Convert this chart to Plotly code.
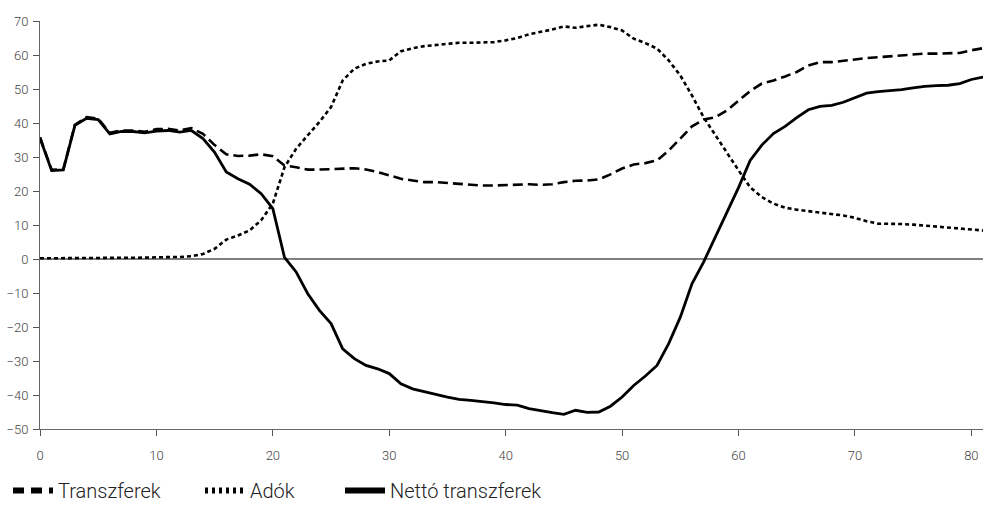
import plotly.graph_objects as go

ages = list(range(0, 82))

transzferek = [35.8, 26.2, 26.4, 39.5, 41.7, 41.3, 37.1, 37.8, 37.8, 37.4,
               38.2, 38.3, 37.8, 38.5, 36.8, 33.5, 30.8, 30.3, 30.4, 30.8,
               30.2, 27.5, 27.0, 26.3, 26.3, 26.5, 26.6, 26.7, 26.3, 25.6,
               24.6, 23.6, 23.1, 22.6, 22.6, 22.3, 22.1, 21.8, 21.6, 21.6,
               21.8, 22.0, 22.0, 21.8, 22.0, 22.6, 23.0, 23.1, 23.4, 24.9,
               26.6, 27.8, 28.2, 29.0, 31.9, 35.4, 39.0, 41.0, 41.7, 43.7,
               46.6, 49.4, 51.6, 52.5, 53.7, 55.0, 56.9, 57.9, 57.9, 58.4,
               58.7, 59.1, 59.4, 59.7, 59.9, 60.2, 60.4, 60.4, 60.4, 60.6,
               61.4, 62.0]

adok = [0.2, 0.2, 0.2, 0.2, 0.3, 0.3, 0.3, 0.3, 0.3, 0.4,
        0.5, 0.5, 0.6, 0.8, 1.5, 3.0, 5.7, 6.9, 8.4, 11.4,
        16.3, 27.0, 32.4, 36.4, 40.3, 44.7, 52.5, 56.0, 57.4, 58.1,
        58.4, 61.1, 62.0, 62.6, 63.0, 63.3, 63.6, 63.6, 63.6, 63.8,
        64.3, 65.0, 66.1, 66.7, 67.5, 68.4, 68.0, 68.5, 68.9, 68.2,
        67.2, 64.8, 63.5, 61.9, 58.4, 54.0, 48.1, 41.7, 36.4, 31.4,
        26.1, 21.1, 18.2, 16.3, 15.1, 14.5, 14.1, 13.6, 13.3, 12.8,
        12.1, 11.1, 10.4, 10.4, 10.3, 10.1, 9.8, 9.6, 9.4, 9.1,
        8.8, 8.4]

netto = [35.6, 26.0, 26.2, 39.3, 41.4, 41.0, 36.8, 37.5, 37.5, 37.1,
         37.6, 37.8, 37.3, 37.8, 35.4, 31.4, 25.6, 23.6, 22.0, 19.2,
         14.8, 0.5, -3.8, -10.2, -15.1, -19.0, -26.4, -29.3, -31.3, -32.3,
         -33.7, -36.7, -38.2, -39.1, -39.8, -40.6, -41.3, -41.6, -41.9, -42.3,
         -42.8, -43.0, -44.0, -44.7, -45.2, -45.7, -44.5, -45.1, -45.0, -43.3,
         -40.6, -37.2, -34.4, -31.3, -24.9, -17.1, -7.3, -0.9, 6.4, 13.5,
         21.0, 29.0, 33.5, 36.9, 39.0, 41.6, 43.9, 44.9, 45.2, 46.1,
         47.4, 48.8, 49.2, 49.4, 49.8, 50.3, 50.8, 51.0, 51.1, 51.6,
         52.8, 53.5]

series_names = ["Transzferek", "Adók", "Nettó transzferek"]
x_ticks = [0, 10, 20, 30, 40, 50, 60, 70, 80]
y_ticks = [-50, -40, -30, -20, -10, 0, 10, 20, 30, 40, 50, 60, 70]
y_labels = ["−50", "−40", "−30", "−20", "−10", "0", "10", "20", "30", "40", "50", "60", "70"]

FONT = "Roboto"
series = [transzferek, adok, netto]
line_dash = ["10px,5px", "4px,3px", "solid"]
line_width = [2.6, 2.6, 2.8]
legend_dash = ["11px,7px", "3px,4px", "solid"]
legend_ids = ["legend", "legend2", "legend3"]

fig = go.Figure()
for name, vals, dsh, w in zip(series_names, series, line_dash, line_width):
    fig.add_trace(go.Scatter(x=ages, y=vals, mode="lines", name=name, showlegend=False,
                             line=dict(color="black", width=w, dash=dsh)))
# legend-only entries (no data points) with thicker key symbols
for name, dsh, lid in zip(series_names, legend_dash, legend_ids):
    fig.add_trace(go.Scatter(x=[None], y=[None], mode="lines", name=name, showlegend=True,
                             legend=lid, line=dict(color="black", width=6, dash=dsh)))

W, H = 983, 505
legend_font = dict(size=20, color="#222222", family=FONT, weight=300)
legend_common = dict(orientation="h", xref="container", yref="paper",
                     xanchor="left", yanchor="middle", y=-0.151,
                     font=legend_font, itemwidth=40, bgcolor="rgba(0,0,0,0)")
fig.update_layout(
    width=W, height=H,
    margin=dict(l=40, r=0, t=21, b=76, autoexpand=False),
    paper_bgcolor="white", plot_bgcolor="white",
    font=dict(family=FONT, color="#444444", size=13, weight=300),
    showlegend=True,
    legend=dict(x=8 / W, **legend_common),
    legend2=dict(x=200 / W, **legend_common),
    legend3=dict(x=340 / W, **legend_common),
)
fig.update_xaxes(range=[0, 81], tickvals=x_ticks, ticks="outside", ticklen=6,
                 tickcolor="#555555", showline=True, linecolor="#666666", linewidth=1,
                 showgrid=False, zeroline=False, ticklabelstandoff=8,
                 tickfont=dict(size=13, color="#444444", family=FONT, weight=300))
fig.update_yaxes(range=[-50, 70], tickvals=y_ticks, ticktext=y_labels, ticks="outside",
                 ticklen=6, tickcolor="#555555", showline=True, linecolor="#666666",
                 linewidth=1, showgrid=False, zeroline=True, zerolinecolor="#808080",
                 zerolinewidth=1.5, ticklabelstandoff=2,
                 tickfont=dict(size=13, color="#444444", family=FONT, weight=300))

fig.write_html("out.html", config={"displayModeBar": False},
               post_script="document.body.style.margin='0';document.body.style.overflow='hidden';")
